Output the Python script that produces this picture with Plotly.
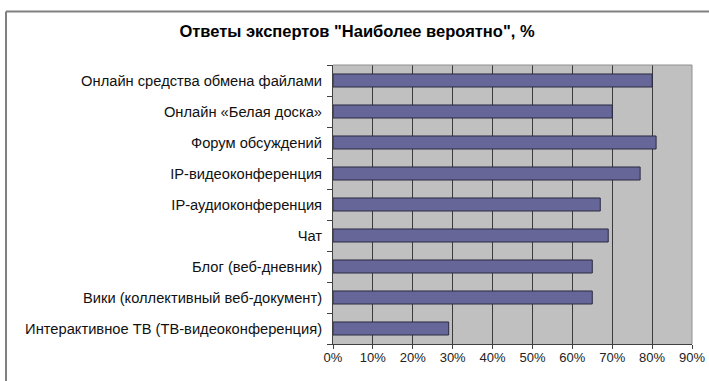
import plotly.graph_objects as go

categories = [
    "Онлайн средства обмена файлами",
    "Онлайн «Белая доска»",
    "Форум обсуждений",
    "IP-видеоконференция",
    "IP-аудиоконференция",
    "Чат",
    "Блог (веб-дневник)",
    "Вики (коллективный веб-документ)",
    "Интерактивное ТВ (ТВ-видеоконференция)",
]
values = [80, 70, 81, 77, 67, 69, 65, 65, 29]
x_ticks = [0, 10, 20, 30, 40, 50, 60, 70, 80, 90]
x_tick_labels = [f"{t}%" for t in x_ticks]
title_text = 'Ответы экспертов "Наиболее вероятно", %'

W, H = 709, 381
L, R, T, B = 333, 17, 65, 37
pw, ph = W - L - R, H - T - B

def px_to_paper_x(px):
    return (px - L) / pw

def px_to_paper_y(py):
    return (H - B - py) / ph

fig = go.Figure(
    go.Bar(
        x=values,
        y=categories,
        orientation="h",
        marker=dict(color="#666699", line=dict(color="#2a2a40", width=1)),
        width=0.42,
    )
)

fig.update_layout(
    width=W,
    height=H,
    margin=dict(l=L, r=R, t=T, b=B, autoexpand=False),
    paper_bgcolor="white",
    plot_bgcolor="#c0c0c0",
    showlegend=False,
    font=dict(family="Liberation Sans, Arial, sans-serif", color="black"),
    title=dict(
        text="<b>" + title_text + "</b>",
        x=px_to_paper_x(357),
        xref="paper",
        xanchor="center",
        y=1 - 31 / H,
        yanchor="middle",
        font=dict(size=16.5, family="Liberation Sans, Arial, sans-serif", color="black"),
    ),
    xaxis=dict(
        range=[0, 90],
        tickvals=x_ticks,
        ticktext=x_tick_labels,
        showgrid=True,
        gridcolor="#3a3a3a",
        gridwidth=1,
        zeroline=False,
        showline=True,
        linecolor="#404040",
        linewidth=1,
        ticks="outside",
        ticklen=4,
        tickcolor="#404040",
        tickfont=dict(size=13, color="#222"),
        ticklabelstandoff=-3,
        automargin=False,
        fixedrange=True,
    ),
    yaxis=dict(
        categoryorder="array",
        categoryarray=categories[::-1],
        autorange=False,
        range=[-0.5, len(categories) - 0.5],
        showgrid=False,
        zeroline=False,
        showline=True,
        linecolor="#404040",
        linewidth=1,
        ticks="outside",
        tickson="boundaries",
        ticklen=5,
        tickcolor="#404040",
        tickfont=dict(size=14.7, color="#111"),
        ticklabelstandoff=7,
        automargin=False,
        fixedrange=True,
    ),
    shapes=[
        dict(type="line", xref="paper", yref="paper", x0=0, x1=1, y0=1, y1=1,
             line=dict(color="#909090", width=1)),
        dict(type="line", xref="paper", yref="paper", x0=1, x1=1, y0=0, y1=1,
             line=dict(color="#909090", width=1)),
        dict(type="line", xref="paper", yref="paper",
             x0=px_to_paper_x(6), x1=px_to_paper_x(720),
             y0=px_to_paper_y(11.5), y1=px_to_paper_y(11.5),
             line=dict(color="#808080", width=2)),
        dict(type="line", xref="paper", yref="paper",
             x0=px_to_paper_x(6), x1=px_to_paper_x(6),
             y0=px_to_paper_y(11.5), y1=px_to_paper_y(400),
             line=dict(color="#808080", width=2)),
    ],
)

fig.write_html(
    "out.html",
    config={"displayModeBar": False},
    post_script="document.body.style.margin='0';document.body.style.overflow='hidden';",
)
